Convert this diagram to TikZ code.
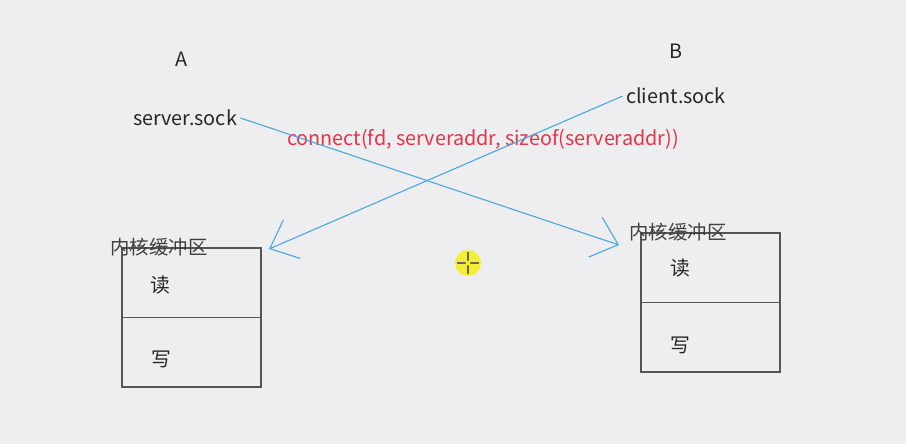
\documentclass[tikz,border=0pt]{standalone}
\usepackage{fontspec}
\setmainfont{Noto Sans CJK SC}
\usetikzlibrary{arrows.meta,positioning}
\definecolor{bg}{RGB}{238,237,240}
\definecolor{linkblue}{RGB}{72,170,222}
\definecolor{callred}{RGB}{228,52,72}
\definecolor{boxgray}{RGB}{85,85,85}
\tikzset{
  sock/.style={font=\fontsize{19.8}{22}\selectfont, text=black!85},
  buflabel/.style={font=\fontsize{19.4}{22}\selectfont, text=black!75, inner sep=0pt},
  bufbox/.style={draw=boxgray, line width=1.2pt, minimum width=139pt, minimum height=139pt, inner sep=0pt},
  link/.style={linkblue, line width=1.1pt, -{Straight Barb[length=24pt,width=42pt]}},
}
\begin{document}
\begin{tikzpicture}[x=1pt,y=-1pt]
  \fill[bg] (0,0) rectangle (906,444);

  \node[sock] (A) at (182,59) {A};
  \node[sock] (B) at (676,51) {B};
  \node[sock] (Asock) at (185,118) {server.sock};
  \node[sock] (Bsock) at (676,96) {client.sock};
  \node[sock, text=callred] (call) at (483,139) {connect(fd, serveraddr, sizeof(serveraddr))};

  \node[bufbox] (Abuf) at (191.5,317.5) {};
  \node[bufbox] (Bbuf) at (710.5,302.5) {};
  \draw[boxgray, line width=1.4pt] (Abuf.west) -- (Abuf.east);
  \draw[boxgray, line width=1.4pt] (Bbuf.west) -- (Bbuf.east);
  \node[buflabel] (Alabel) at (159,247) {内核缓冲区};
  \node[buflabel] (Blabel) at (678,232) {内核缓冲区};
  \node[sock] (Aread) at (160,285) {读};
  \node[sock] (Awrite) at (161,359) {写};
  \node[sock] (Bread) at (680,268) {读};
  \node[sock] (Bwrite) at (680,345) {写};

  \coordinate (Ain) at (269,249);
  \coordinate (Bin) at (619,245);
  \draw[link] (Asock.east) -- (Bin);
  \draw[link] (Bsock.west) -- (Ain);

  \fill[yellow!85!lime, opacity=.8] (468,263) circle (13);
  \draw[black!60, line width=1.2pt] (468,252) -- (468,274) (457,263) -- (479,263);
  \fill[yellow!85!lime] (468,263) circle (2.5);
\end{tikzpicture}
\end{document}
